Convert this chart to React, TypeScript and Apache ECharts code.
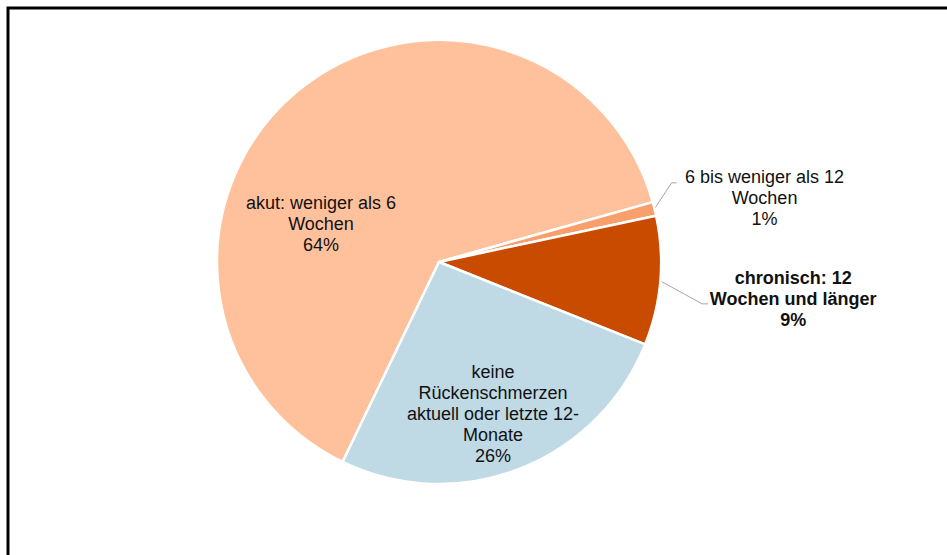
import { useEffect, useRef } from "react";
import * as echarts from "echarts";

// ---- data ----
const categories = [
  "akut: weniger als 6\nWochen",
  "6 bis weniger als 12\nWochen",
  "chronisch: 12\nWochen und länger",
  "keine\nRückenschmerzen\naktuell oder letzte 12-\nMonate",
];
const values = [63.5, 1.0, 9.4, 26.1];
const colors = ["#FFC19C", "#F89F6C", "#C84B00", "#BFD9E5"];
const boldLabel = [false, false, true, false];
const outsideLabel = [false, true, true, false];

// ---- layout ----
const CX = 439;
const CY = 262;
const R = 222;
const START = 244.25;
const FONT = "'Liberation Sans', Arial, Helvetica, sans-serif";

// label placement: inside labels relative to centre, outside relative to arc point
const insideOffset: Record<number, [number, number]> = {
  0: [-118, -38],
  3: [54, 152],
};
const leader: Record<number, { bend: [number, number]; end: [number, number]; text: [number, number] }> = {
  1: { bend: [17, -26], end: [22, -26], text: [110, -11] },
  2: { bend: [42, 23], end: [48, 23], text: [133, 18] },
};

function midAngle(i: number) {
  const total = values.reduce((a, b) => a + b, 0);
  let cum = 0;
  for (let k = 0; k < i; k++) cum += values[k];
  return START - ((cum + values[i] / 2) / total) * 360;
}
function arcPoint(i: number): [number, number] {
  const a = (midAngle(i) * Math.PI) / 180;
  return [CX + R * Math.cos(a), CY - R * Math.sin(a)];
}

export default function App() {
  const ref = useRef<HTMLDivElement>(null);
  useEffect(() => {
    if (!ref.current) return;
    const chart = echarts.init(ref.current, undefined, { renderer: "svg" });
    chart.setOption({
      animation: false,
      backgroundColor: "#ffffff",
      graphic: [
        {
          type: "rect",
          silent: true,
          shape: { x: 8, y: 8, width: 1000, height: 700 },
          style: { fill: "none", stroke: "#000000", lineWidth: 3 },
        },
      ],
      series: [
        {
          type: "pie",
          center: [CX, CY],
          radius: R,
          startAngle: START,
          clockwise: true,
          avoidLabelOverlap: false,
          itemStyle: { borderColor: "#ffffff", borderWidth: 2.5 },
          emphasis: { disabled: true },
          label: {
            fontFamily: FONT,
            fontSize: 18,
            lineHeight: 21,
            color: "#111111",
            align: "center",
            formatter: (p: any) => `${p.name}\n${Math.round(p.value)}%`,
          },
          labelLine: {
            lineStyle: { color: "#A6A6A6", width: 1 },
          },
          labelLayout: (params: any) => {
            const i = params.dataIndex;
            if (outsideLabel[i]) {
              const [ax, ay] = arcPoint(i);
              const l = leader[i];
              return {
                x: ax + l.text[0],
                y: ay + l.text[1],
                align: "center",
                verticalAlign: "middle",
                labelLinePoints: [
                  [ax, ay],
                  [ax + l.bend[0], ay + l.bend[1]],
                  [ax + l.end[0], ay + l.end[1]],
                ],
              };
            }
            const o = insideOffset[i];
            return {
              x: CX + o[0],
              y: CY + o[1],
              align: "center",
              verticalAlign: "middle",
            };
          },
          data: categories.map((name, i) => ({
            name,
            value: values[i],
            itemStyle: { color: colors[i] },
            label: {
              position: outsideLabel[i] ? "outside" : "inside",
              fontWeight: boldLabel[i] ? "bold" : "normal",
            },
            labelLine: { show: outsideLabel[i] },
          })),
        },
      ],
    });
    return () => chart.dispose();
  }, []);
  return (
    <div
      ref={ref}
      style={{ position: "fixed", left: 0, top: 0, width: 947, height: 555 }}
    />
  );
}
